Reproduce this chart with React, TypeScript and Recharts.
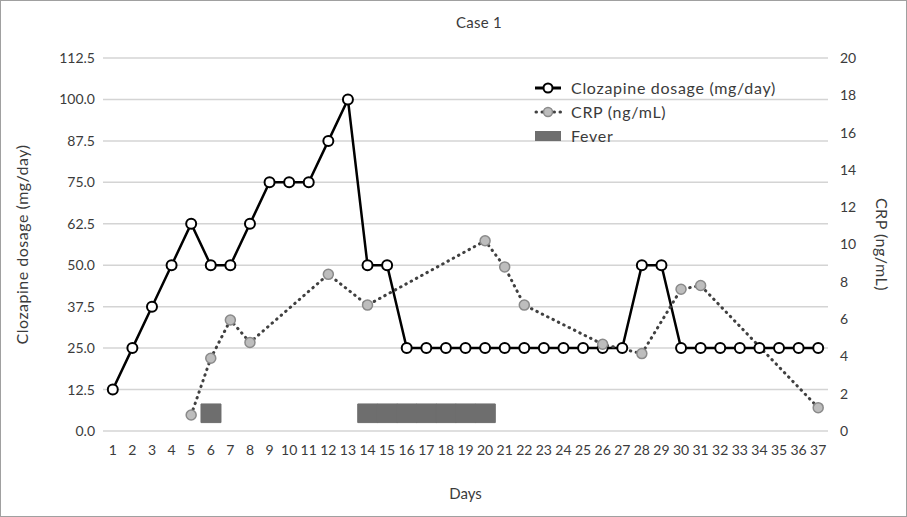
import { ComposedChart, Line, Bar, XAxis, YAxis, CartesianGrid, Label } from "recharts";

const days = ["1","2","3","4","5","6","7","8","9","10","11","12","13","14","15","16","17","18","19","20","21","22","23","24","25","26","27","28","29","30","31","32","33","34","35","36","37"];

const clozapine = [12.5, 25, 37.5, 50, 62.5, 50, 50, 62.5, 75, 75, 75, 87.5, 100, 50, 50, 25, 25, 25, 25, 25, 25, 25, 25, 25, 25, 25, 25, 50, 50, 25, 25, 25, 25, 25, 25, 25, 25];

const crp: (number | null)[] = [null, null, null, null, 0.86, 3.9, 5.95, 4.75, null, null, null, 8.4, null, 6.75, null, null, null, null, null, 10.2, 8.8, 6.75, null, null, null, 4.65, null, 4.15, null, 7.6, 7.8, null, null, null, null, null, 1.25];

const feverDays = [6, 14, 15, 16, 17, 18, 19, 20];
// fever band drawn on the CRP axis
const feverLow = 0.45;
const feverHigh = 1.45;

const leftTicks = [0, 12.5, 25, 37.5, 50, 62.5, 75, 87.5, 100, 112.5];
const rightTicks = [0, 2, 4, 6, 8, 10, 12, 14, 16, 18, 20];

const FONT = "Lato, 'Open Sans', sans-serif";
const TEXT = "#3b3b3b";

const rows = days.map((d, i) => ({
  day: d,
  clozapine: clozapine[i],
  crp: crp[i],
  fever: feverDays.includes(i + 1) ? [feverLow, feverHigh] : null,
}));

function LegendBox() {
  return (
    <div style={{ position: "absolute", top: 75, left: 533, fontFamily: FONT, fontSize: 16, letterSpacing: 0.7, color: TEXT, lineHeight: "24px" }}>
      <div style={{ display: "flex", alignItems: "center" }}>
        <svg width={28} height={14} style={{ marginRight: 9 }}>
          <line x1={1} y1={7} x2={27} y2={7} stroke="#000" strokeWidth={3} />
          <circle cx={14} cy={7} r={4.5} fill="#fff" stroke="#000" strokeWidth={2} />
        </svg>
        Clozapine dosage (mg/day)
      </div>
      <div style={{ display: "flex", alignItems: "center" }}>
        <svg width={28} height={14} style={{ marginRight: 9 }}>
          <line x1={2} y1={7} x2={27} y2={7} stroke="#404040" strokeWidth={3} strokeDasharray="0.5 5.5" strokeLinecap="round" />
          <circle cx={14} cy={7} r={4.5} fill="#bdbdbd" stroke="#8a8a8a" strokeWidth={1.5} />
        </svg>
        CRP (ng/mL)
      </div>
      <div style={{ display: "flex", alignItems: "center" }}>
        <svg width={28} height={14} style={{ marginRight: 9 }}>
          <rect x={1} y={2} width={26} height={10} fill="#6e6e6e" />
        </svg>
        Fever
      </div>
    </div>
  );
}

export default function App() {
  const tick = { fontSize: 14, fill: TEXT, fontFamily: FONT };
  const axisTitle = { textAnchor: "middle" as const, fontSize: 16, letterSpacing: 0.5, fill: TEXT, fontFamily: FONT };
  return (
    <div style={{ position: "fixed", left: 0, top: 0, width: 907, height: 517, background: "#fff", boxSizing: "border-box", border: "1px solid #a0a0a0" }}>
      <div style={{ position: "absolute", top: 12, left: 0, width: 956, textAlign: "center", fontFamily: FONT, fontSize: 15, letterSpacing: 0.3, color: TEXT }}>
        Case 1
      </div>
      <ComposedChart width={905} height={515} data={rows} barCategoryGap={0} margin={{ top: 57, right: 10, bottom: 45, left: 10 }}>
        <CartesianGrid yAxisId="left" vertical={false} stroke="#d4d4d4" strokeWidth={1.5} />
        <XAxis dataKey="day" axisLine={false} tickLine={false} tick={tick} interval={0} dy={6} height={40}>
          <Label value="Days" position="insideBottom" offset={-28} style={{ fontSize: 15, fill: TEXT, fontFamily: FONT }} />
        </XAxis>
        <YAxis yAxisId="left" domain={[0, 112.5]} ticks={leftTicks} axisLine={false} tickLine={false} tick={tick} width={92} tickFormatter={(v: number) => v.toFixed(1)}>
          <Label value="Clozapine dosage (mg/day)" angle={-90} position="insideLeft" offset={11} style={axisTitle} />
        </YAxis>
        <YAxis yAxisId="right" orientation="right" domain={[0, 20]} ticks={rightTicks} axisLine={false} tickLine={false} tick={tick} width={68} dx={4}>
          <Label value="CRP (ng/mL)" angle={90} position="insideRight" offset={14} style={axisTitle} />
        </YAxis>
        <Bar yAxisId="right" dataKey="fever" fill="#6e6e6e" stroke="#6e6e6e" strokeWidth={1} isAnimationActive={false} />
        <Line yAxisId="left" dataKey="clozapine" stroke="#000" strokeWidth={2.5} dot={{ r: 5, fill: "#fff", stroke: "#000", strokeWidth: 2 }} isAnimationActive={false} />
        <Line yAxisId="right" dataKey="crp" connectNulls stroke="#404040" strokeWidth={3} strokeDasharray="0.5 5.5" strokeLinecap="round" dot={{ r: 5, fill: "#bdbdbd", stroke: "#8a8a8a", strokeWidth: 1.5, strokeDasharray: "0" }} isAnimationActive={false} />
      </ComposedChart>
      <LegendBox />
    </div>
  );
}
